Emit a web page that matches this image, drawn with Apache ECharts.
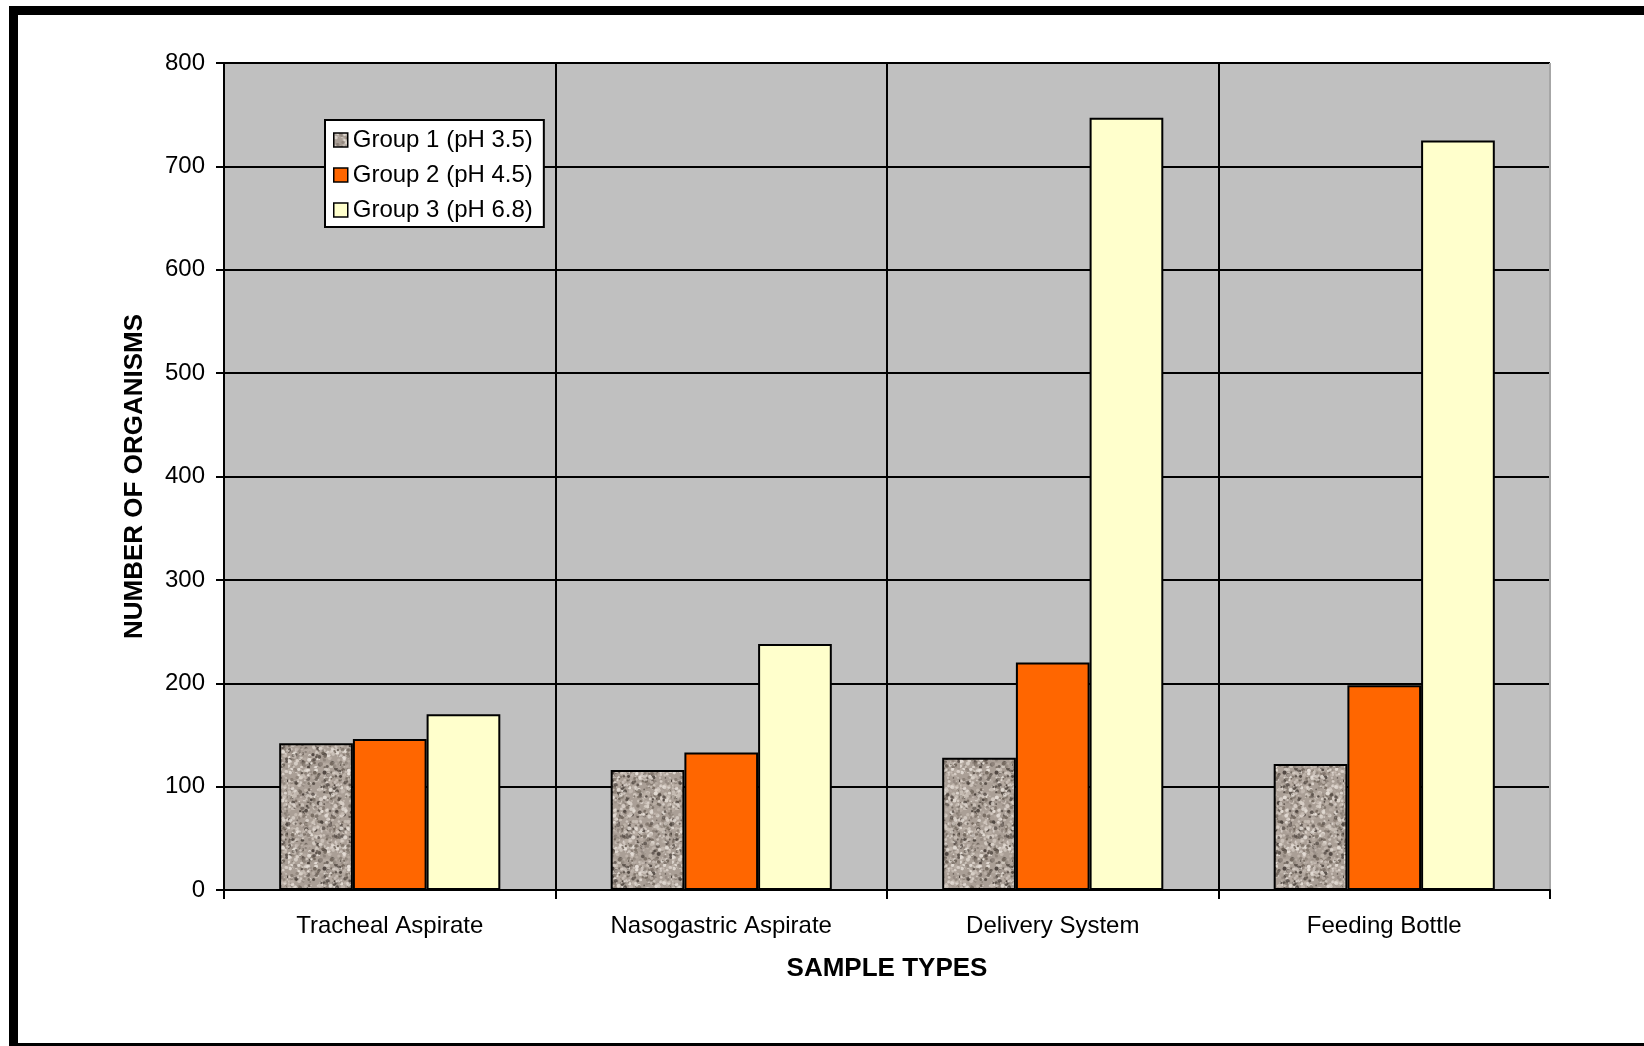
<!DOCTYPE html>
<html>
<head>
<meta charset="utf-8">
<script src="https://cdn.jsdelivr.net/npm/echarts@6/dist/echarts.min.js"></script>
<style>
  html, body { margin: 0; padding: 0; background: #ffffff; }
  #chart { width: 1644px; height: 1046px; }
</style>
</head>
<body>
<div id="chart"></div>
<script>
// Sample types on the x axis
const categories = ['Tracheal Aspirate', 'Nasogastric Aspirate', 'Delivery System', 'Feeding Bottle'];

// Number of organisms per group
const group1 = [142, 116, 128, 122];
const group2 = [146, 133, 220, 198];
const group3 = [170, 238, 747, 725];

const seriesNames = ['Group 1 (pH 3.5)', 'Group 2 (pH 4.5)', 'Group 3 (pH 6.8)'];

// Y axis ticks
const yMin = 0;
const yMax = 800;
const yStep = 100;

const FONT = '"Liberation Sans", Arial, sans-serif';

// Granite-like fill for the first group, drawn once onto a small tile
function makeGraniteTile() {
  const size = 96;
  const c = document.createElement('canvas');
  c.width = size; c.height = size;
  const ctx = c.getContext('2d');
  ctx.fillStyle = '#aa9f96';
  ctx.fillRect(0, 0, size, size);
  let s = 24691;
  const next = () => { s = (s * 1103515245 + 12345) & 0x7fffffff; return s / 0x7fffffff; };
  const shades = ['#c8beb5', '#d9d0c8', '#8f847b', '#e6dfd8', '#74695f', '#b9aea5', '#4e453f'];
  for (let i = 0; i < 1400; i++) {
    const x = next() * size, y = next() * size;
    const r = 0.7 + next() * 1.4;
    ctx.globalAlpha = 0.55 + next() * 0.45;
    ctx.fillStyle = shades[Math.floor(next() * shades.length)];
    ctx.beginPath();
    ctx.arc(x, y, r, 0, Math.PI * 2);
    ctx.fill();
  }
  ctx.globalAlpha = 1;
  return c;
}
const granite = { image: makeGraniteTile(), repeat: 'repeat' };

const barColors = [granite, '#ff6600', '#ffffcc'];
const seriesData = [group1, group2, group3];

// Grid line colours: black inside the plot, grey along the top/right edge
const yLineColors = [];
for (let v = yMin; v <= yMax; v += yStep) yLineColors.push(v === yMax ? '#a6a6a6' : '#000000');
const xLineColors = categories.map(() => '#000000').concat(['#a6a6a6']);

const chart = echarts.init(document.getElementById('chart'), null, { renderer: 'canvas' });

chart.setOption({
  animation: false,
  backgroundColor: '#ffffff',
  graphic: [{
    type: 'rect',
    shape: { x: 13.5, y: 10.5, width: 1700, height: 1037 },
    style: { fill: 'none', stroke: '#000000', lineWidth: 9 },
    silent: true,
    z: 100
  }],
  grid: {
    left: 224, right: 94, top: 63, bottom: 156,
    containLabel: false,
    show: true,
    backgroundColor: '#c0c0c0',
    borderWidth: 0
  },
  legend: {
    orient: 'vertical',
    left: 325, top: 120,
    backgroundColor: '#ffffff',
    borderColor: '#000000',
    borderWidth: 2,
    borderRadius: 0,
    padding: [8, 11, 5, 8],
    itemWidth: 14, itemHeight: 14,
    itemGap: 11,
    icon: 'rect',
    itemStyle: { borderColor: '#000000', borderWidth: 1.5 },
    textStyle: { fontFamily: FONT, fontSize: 24, color: '#000000', lineHeight: 22 },
    data: seriesNames
  },
  xAxis: {
    type: 'category',
    data: categories,
    boundaryGap: true,
    name: 'SAMPLE TYPES',
    nameLocation: 'middle',
    nameGap: 66,
    nameTextStyle: { fontFamily: FONT, fontSize: 26, fontWeight: 'bold', color: '#000000' },
    axisLine: { show: true, lineStyle: { color: '#000000', width: 2 } },
    axisTick: { show: true, alignWithLabel: false, inside: false, length: 9, lineStyle: { color: '#000000', width: 2 } },
    axisLabel: { fontFamily: FONT, fontSize: 24, color: '#000000', margin: 24, interval: 0 },
    splitLine: { show: true, showMinLine: true, showMaxLine: true, lineStyle: { color: xLineColors, width: 2 } }
  },
  yAxis: {
    type: 'value',
    min: yMin, max: yMax, interval: yStep,
    name: 'NUMBER OF ORGANISMS',
    nameLocation: 'middle',
    nameRotate: 90,
    nameGap: 76,
    nameTextStyle: { fontFamily: FONT, fontSize: 26, fontWeight: 'bold', color: '#000000' },
    axisLine: { show: true, lineStyle: { color: '#000000', width: 2 } },
    axisTick: { show: true, inside: false, length: 8, lineStyle: { color: '#000000', width: 2 } },
    axisLabel: { fontFamily: FONT, fontSize: 24, color: '#000000', margin: 19 },
    splitLine: { show: true, showMinLine: false, lineStyle: { color: yLineColors, width: 2 } }
  },
  series: seriesNames.map((name, i) => ({
    name: name,
    type: 'bar',
    data: seriesData[i],
    barGap: '0%',
    barCategoryGap: '33.3%',
    itemStyle: { color: barColors[i], borderColor: '#000000', borderWidth: 2 },
    emphasis: { disabled: true }
  }))
});
</script>
</body>
</html>
